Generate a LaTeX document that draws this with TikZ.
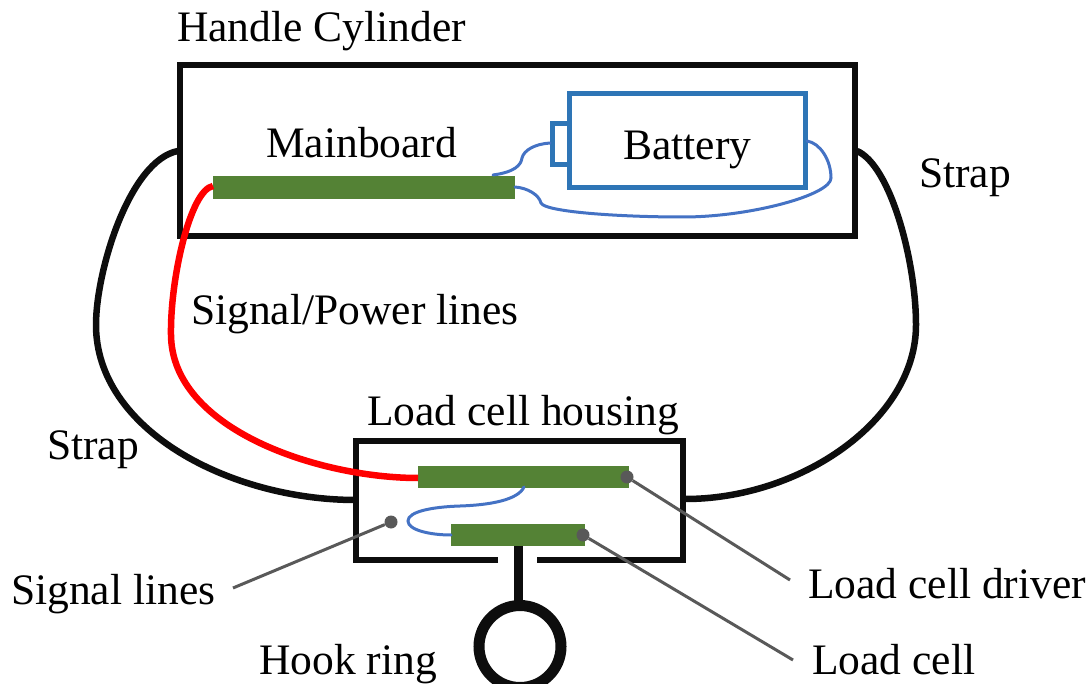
\documentclass[tikz,border=0pt]{standalone}
\usepackage{fontspec}
\setmainfont{Liberation Serif}
\definecolor{wireblue}{HTML}{4472C4}
\definecolor{batblue}{HTML}{2E75B6}
\definecolor{pcb}{HTML}{548235}
\definecolor{leadgray}{HTML}{595959}
\definecolor{ink}{HTML}{0D0D0D}
\tikzset{
 lbl/.style={font=\fontsize{43.5}{45}\selectfont,inner sep=0pt,anchor=base west,text=black},
 box/.style={draw=ink,line width=5.4pt,fill=none},
 strap/.style={draw=ink,line width=6.5pt},
 wire/.style={draw=wireblue,line width=3pt,line cap=round},
 lead/.style={draw=leadgray,line width=3pt},
 dot/.style={circle,fill=leadgray,inner sep=0pt,minimum size=13pt},
}
\begin{document}
\begin{tikzpicture}[x=1pt,y=-1pt]
\useasboundingbox (0,0) rectangle (1092,684);
\node[lbl] (t1) at (177,42) {Handle Cylinder};
\node[lbl] (t2) at (266,158) {Mainboard};
\node[lbl] (t3) at (623,160) {Battery};
\node[lbl] (t4) at (919,188) {Strap};
\node[lbl] (t5) at (191,325) {Signal/Power lines};
\node[lbl] (t6) at (367,425) {Load cell housing};
\node[lbl] (t7) at (47,459) {Strap};
\node[lbl] (t8) at (11,604) {Signal lines};
\node[lbl] (t9) at (808,598) {Load cell driver};
\node[lbl] (t10) at (812,674) {Load cell};
\node[lbl] (t11) at (259,674) {Hook ring};
\draw[box] (180,65) rectangle (855,236);
\draw[box] (498,560) -- (356,560) -- (356,441) -- (683,441) -- (683,560) -- (537,560);
\draw[draw=batblue,line width=5pt] (569,94) rectangle (805,188);
\draw[draw=batblue,line width=5pt] (569,123.5) -- (552,123.5) -- (552,164.5) -- (569,164.5);
\fill[pcb] (213,176) rectangle (515,199);
\fill[pcb] (418,466) rectangle (629,488);
\fill[pcb] (451,524) rectangle (585,546);
\draw[wire] (493,175) .. controls (515,172) and (521,165) .. (522,158) .. controls (524,150) and (535,144) .. (550,143);
\draw[wire] (515,187) .. controls (528,188) and (539,195) .. (541,203) .. controls (545,212) and (620,217) .. (683,217) .. controls (750,217) and (831,195) .. (831,178) .. controls (831,160) and (820,143) .. (807,141);
\draw[wire] (524,487) .. controls (518,500) and (490,505) .. (460,506) .. controls (430,507) and (408,512) .. (408,521) .. controls (408,530) and (430,535) .. (451,535);
\draw[strap] (178,151) .. controls (130,160) and (96,270) .. (96,325) .. controls (96,430) and (230,500) .. (356,500);
\draw[strap] (857,151) .. controls (890,165) and (916,260) .. (916,325) .. controls (916,420) and (800,500) .. (683,499);
\draw[draw=red,line width=6.5pt] (213,186) .. controls (190,190) and (170,280) .. (171,335) .. controls (172,430) and (320,478) .. (418,478);
\draw[draw=ink,line width=9pt] (518,546) -- (518,602);
\draw[draw=ink,line width=11pt] (520,646.5) circle (41);
\node[dot] (d1) at (391,522) {};
\node[dot] (d2) at (627,477) {};
\node[dot] (d3) at (583,535) {};
\coordinate (e1) at (233,588);
\coordinate (e2) at (790,580);
\coordinate (e3) at (793,660);
\draw[lead] (d1) -- (e1);
\draw[lead] (d2) -- (e2);
\draw[lead] (d3) -- (e3);
\end{tikzpicture}
\end{document}
